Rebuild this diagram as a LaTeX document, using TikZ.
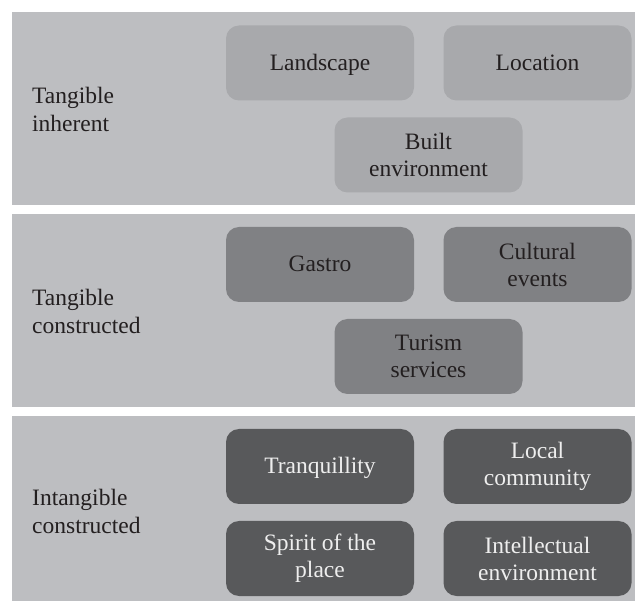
\documentclass[tikz,border=0pt]{standalone}
\usepackage{fontspec}
\setmainfont{Liberation Serif}
\definecolor{panelbg}{HTML}{BDBEC1}
\definecolor{boxA}{HTML}{A8A9AC}
\definecolor{boxB}{HTML}{808184}
\definecolor{boxC}{HTML}{58595B}
\definecolor{ink}{HTML}{231F20}
\definecolor{lightink}{HTML}{EEEEEE}
\tikzset{
  panel/.style={fill=panelbg, draw=none},
  itembox/.style={draw=none, rounded corners=13pt, minimum width=188pt, minimum height=75pt,
    align=center, inner sep=0pt, text=ink, font=\fontsize{23.5}{27}\selectfont},
  oneline/.style={text height=19pt, text depth=4pt},
  boxa/.style={itembox, fill=boxA},
  boxb/.style={itembox, fill=boxB},
  boxc/.style={itembox, fill=boxC, text=lightink},
  grouplabel/.style={anchor=west, align=left, inner sep=0pt, text=ink, font=\fontsize{23.5}{28}\selectfont}
}
\begin{document}
\begin{tikzpicture}[x=1pt,y=-1pt]
\useasboundingbox[fill=white] (0,0) rectangle (635,601);
% panels
\path[panel] (12,12) rectangle (635,205);
\path[panel] (12,214) rectangle (635,407);
\path[panel] (12,416) rectangle (635,601);
% panel 1
\node[grouplabel] (l1) at (32,109) {Tangible\\inherent};
\node[boxa, oneline] (landscape) at (320,63) {Landscape};
\node[boxa, oneline] (location) at (537.5,63) {Location};
\node[boxa] (built) at (428.5,155) {Built\\environment};
% panel 2
\node[grouplabel] (l2) at (32,311) {Tangible\\constructed};
\node[boxb, oneline] (gastro) at (320,264.5) {Gastro};
\node[boxb] (cultural) at (537.5,264.5) {Cultural\\events};
\node[boxb] (turism) at (428.5,356.5) {Turism\\services};
% panel 3
\node[grouplabel] (l3) at (32,511) {Intangible\\constructed};
\node[boxc, oneline] (tranq) at (320,466.5) {Tranquillity};
\node[boxc] (local) at (537.5,466.5) {Local\\community};
\node[boxc] (spirit) at (320,558.5) {Spirit of the\\place};
\node[boxc] (intel) at (537.5,558.5) {Intellectual\\environment};
\end{tikzpicture}
\end{document}
